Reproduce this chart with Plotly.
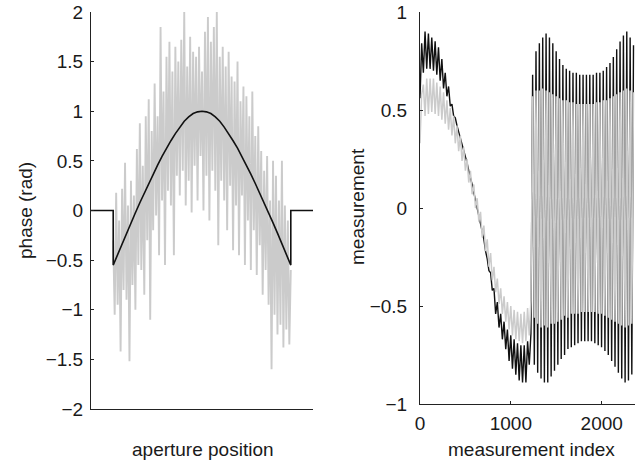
import numpy as np
import plotly.graph_objects as go

# ---------------- data: left panel (phase across aperture) ----------------
# smooth phase profile inside the aperture (41 samples, aperture 10..90)
phase_true = [-0.55, -0.441, -0.333, -0.228, -0.124, -0.023, 0.078, 0.176, 0.272, 0.366,
              0.458, 0.545, 0.628, 0.703, 0.775, 0.840, 0.899, 0.943, 0.977, 0.994,
              1.000,
              0.994, 0.977, 0.943, 0.899, 0.840, 0.775, 0.703, 0.628, 0.545, 0.458,
              0.366, 0.272, 0.176, 0.078, -0.023, -0.124, -0.228, -0.333, -0.441, -0.55]

# noisy phase estimate (121 samples, aperture 10..90)
phase_noisy = [-0.30, -1.05, 0.18, -0.95, -0.10, -1.42, 0.22, -0.80, 0.48, -0.90,
               0.05, -1.52, 0.30, -0.75, 0.15, -1.00, 0.62, -0.55, 0.88, -0.60,
               0.45, -0.85, 0.95, -0.30, 1.12, -1.10, 0.80, -0.20, 1.28, -0.05,
               0.95, -0.45, 1.85, 0.10, 1.20, -0.55, 1.55, 0.20, 1.70, 0.05,
               1.40, -0.45, 1.65, 0.35, 1.50, 0.15, 1.72, 0.40, 2.00, 0.05,
               1.45, 0.30, 1.75, -0.02, 1.60, 0.45, 1.55, 0.10, 1.65, 0.55,
               1.40, 0.00, 1.80, 0.35, 1.95, -0.10, 1.70, 0.40, 1.85, 0.20,
               2.00, -0.35, 1.55, 0.30, 1.65, 0.10, 1.45, -0.20, 1.60, 0.25,
               1.35, -0.40, 1.30, 0.05, 1.50, -0.45, 1.10, 0.15, 1.25, -0.55,
               1.15, -0.10, 0.95, -0.60, 1.20, -0.20, 0.75, -0.65, 0.85, -0.35,
               0.60, -0.85, 0.40, -0.60, 0.55, -0.95, 0.10, -1.60, 0.50, -1.05,
               0.35, -1.25, 0.10, -1.15, 0.50, -1.38, 0.05, -1.20, -0.10, -1.35,
               -0.60]

aperture_start, aperture_end, aperture_total = 10, 90, 100

# ---------------- data: right panel (measurements) ----------------
meas_black = [0.56, 0.84, 0.69, 0.90, 0.71, 0.89, 0.71, 0.87, 0.70, 0.85,
              0.68, 0.82, 0.65, 0.76, 0.61, 0.69, 0.57, 0.62, 0.52, 0.53,
              0.47, 0.46, 0.42, 0.39, 0.36, 0.33, 0.29, 0.26, 0.23, 0.19,
              0.16, 0.12, 0.08, 0.04, 0.01, -0.03, -0.07, -0.11, -0.16, -0.22,
              -0.26, -0.32, -0.33, -0.42, -0.41, -0.54, -0.48, -0.61, -0.54, -0.67,
              -0.58, -0.72, -0.62, -0.78, -0.65, -0.82, -0.67, -0.85, -0.69, -0.88,
              -0.70, -0.89, -0.70, -0.89, -0.68, -0.80, -0.64,
              0.68, -0.80, 0.80, -0.84, 0.84, -0.87, 0.87, -0.89, 0.89, -0.89,
              0.87, -0.86, 0.84, -0.83, 0.80, -0.80, 0.76, -0.77, 0.73, -0.75,
              0.71, -0.72, 0.70, -0.71, 0.69, -0.70, 0.69, -0.69, 0.68, -0.68,
              0.68, -0.68, 0.68, -0.68, 0.68, -0.68, 0.68, -0.69, 0.69, -0.70,
              0.69, -0.71, 0.70, -0.73, 0.72, -0.75, 0.74, -0.78, 0.77, -0.81,
              0.81, -0.84, 0.85, -0.87, 0.88, -0.89, 0.90, -0.88, 0.87, -0.85,
              0.83]

meas_gray = [0.33, 0.58, 0.63, 0.47, 0.66, 0.48, 0.66, 0.49, 0.66, 0.48,
             0.64, 0.47, 0.62, 0.45, 0.59, 0.43, 0.55, 0.40, 0.51, 0.37,
             0.47, 0.33, 0.42, 0.29, 0.37, 0.24, 0.31, 0.19, 0.25, 0.13,
             0.19, 0.07, 0.12, 0.00, 0.05, -0.07, -0.02, -0.15, -0.09, -0.22,
             -0.16, -0.30, -0.23, -0.37, -0.30, -0.43, -0.36, -0.49, -0.41, -0.54,
             -0.45, -0.58, -0.48, -0.62, -0.50, -0.65, -0.52, -0.67, -0.53, -0.68,
             -0.54, -0.69, -0.53, -0.68, -0.51, -0.65, -0.47,
             0.57, -0.56, 0.60, -0.59, 0.60, -0.61, 0.61, -0.60, 0.60, -0.61,
             0.59, -0.59, 0.58, -0.59, 0.57, -0.58, 0.56, -0.57, 0.55, -0.55,
             0.55, -0.56, 0.54, -0.54, 0.54, -0.54, 0.53, -0.54, 0.53, -0.53,
             0.53, -0.53, 0.53, -0.53, 0.53, -0.53, 0.53, -0.53, 0.54, -0.54,
             0.54, -0.54, 0.55, -0.55, 0.55, -0.56, 0.56, -0.57, 0.57, -0.58,
             0.58, -0.59, 0.59, -0.60, 0.60, -0.61, 0.61, -0.60, 0.60, -0.59,
             0.59]

meas_step = 18.5
meas_ticks = [0, 1000, 2000]
phase_ticks = [-2, -1.5, -1, -0.5, 0, 0.5, 1, 1.5, 2]
meas_yticks = [-1, -0.5, 0, 0.5, 1]

# ---------------- build ----------------
x_noisy = np.linspace(aperture_start, aperture_end, len(phase_noisy))
x_true_in = np.linspace(aperture_start, aperture_end, len(phase_true))
x_true = [0, aperture_start] + list(x_true_in) + [aperture_end, aperture_total]
y_true = [0, 0] + list(phase_true) + [0, 0]

x_meas = np.arange(len(meas_black)) * meas_step

W, H = 635, 467
FONT = "Liberation Sans, Arial, Helvetica, sans-serif"
GRAY = "#cbcbcb"
TXT = "#1a1a1a"

fig = go.Figure()
fig.add_trace(go.Scatter(x=x_noisy, y=phase_noisy, mode="lines",
                         line=dict(color=GRAY, width=1.9), xaxis="x", yaxis="y",
                         showlegend=False, hoverinfo="skip"))
fig.add_trace(go.Scatter(x=x_true, y=y_true, mode="lines",
                         line=dict(color="#111111", width=1.6), xaxis="x", yaxis="y",
                         showlegend=False, hoverinfo="skip"))
fig.add_trace(go.Scatter(x=x_meas, y=meas_black, mode="lines",
                         line=dict(color="#111111", width=1.4), xaxis="x2", yaxis="y2",
                         showlegend=False, hoverinfo="skip"))
fig.add_trace(go.Scatter(x=x_meas, y=meas_gray, mode="lines",
                         line=dict(color=GRAY, width=1.5), xaxis="x2", yaxis="y2",
                         showlegend=False, hoverinfo="skip"))

axis_common = dict(showgrid=False, zeroline=False, showline=True, linecolor="#222222",
                   linewidth=1, tickcolor="#222222", ticklen=3, automargin=False,
                   tickfont=dict(family=FONT, size=19, color=TXT))

fig.update_layout(
    width=W, height=H,
    margin=dict(l=0, r=0, t=0, b=0, autoexpand=False),
    paper_bgcolor="white", plot_bgcolor="white",
    xaxis=dict(domain=[91 / W, 313 / W], range=[0, aperture_total], anchor="y",
               showticklabels=False, ticks="", **axis_common),
    yaxis=dict(domain=[1 - 409 / H, 1 - 12 / H], range=[-2, 2], anchor="x",
               tickvals=phase_ticks, ticks="inside", ticklabelstandoff=3, **axis_common),
    xaxis2=dict(domain=[420 / W, 1.0], range=[0, 2366], anchor="y2",
                tickvals=meas_ticks, ticks="inside", ticklabelstandoff=2, **axis_common),
    yaxis2=dict(domain=[1 - 404 / H, 1 - 12 / H], range=[-1, 1], anchor="x2",
                tickvals=meas_yticks, ticks="inside", ticklabelstandoff=8, **axis_common),
    annotations=[
        dict(text="aperture position", x=202.5 / W, y=1 - 449 / H, xref="paper", yref="paper",
             showarrow=False, xanchor="center", yanchor="middle",
             font=dict(family=FONT, size=19, color=TXT)),
        dict(text="measurement index", x=531.5 / W, y=1 - 449 / H, xref="paper", yref="paper",
             showarrow=False, xanchor="center", yanchor="middle",
             font=dict(family=FONT, size=19, color=TXT)),
        dict(text="phase (rad)", x=25 / W, y=1 - 211 / H, xref="paper", yref="paper",
             showarrow=False, xanchor="center", yanchor="middle", textangle=-90,
             font=dict(family=FONT, size=19, color=TXT)),
        dict(text="measurement", x=357 / W, y=1 - 207 / H, xref="paper", yref="paper",
             showarrow=False, xanchor="center", yanchor="middle", textangle=-90,
             font=dict(family=FONT, size=19, color=TXT)),
    ],
)

fig.write_html("out.html", config={"displayModeBar": False, "staticPlot": True},
               post_script="document.body.style.margin='0';document.body.style.overflow='hidden';")
